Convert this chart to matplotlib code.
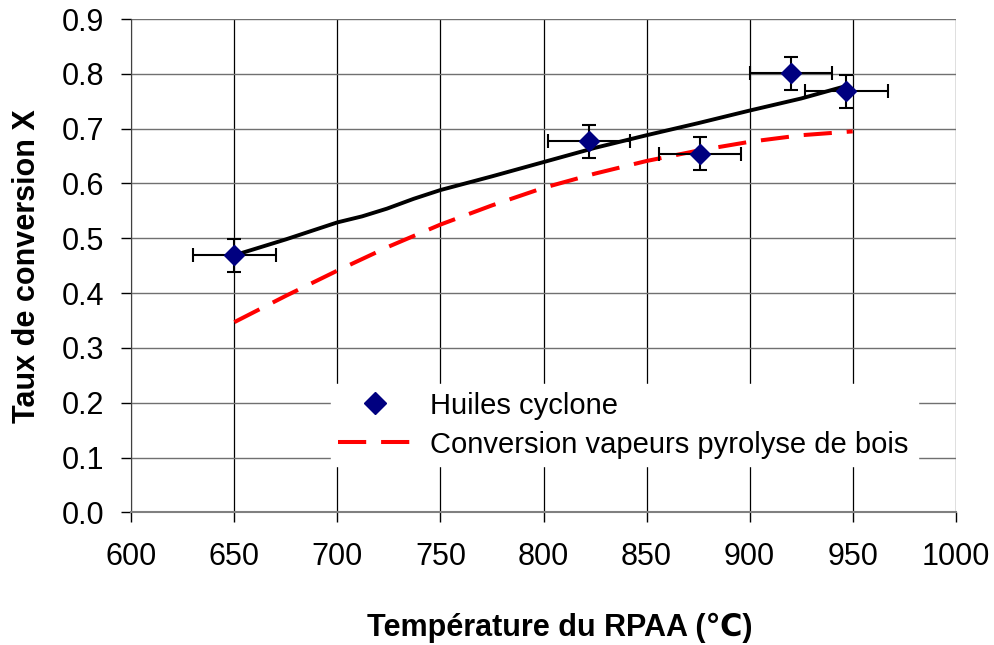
import matplotlib
matplotlib.use("Agg")
import matplotlib.pyplot as plt
from matplotlib.lines import Line2D

plt.rcParams['font.family'] = ['Liberation Sans', 'DejaVu Sans']

# Measured cyclone oil conversion with error bars
temp_cyclone = [650, 822, 876, 920, 947]
conv_cyclone = [0.469, 0.677, 0.654, 0.801, 0.768]
temp_err = [20, 20, 20, 20, 20]
conv_err = [0.03, 0.03, 0.03, 0.03, 0.03]

# Fitted trend through the cyclone oils (solid black)
temp_fit = [650, 675, 700, 712, 724, 737, 750, 775, 800, 825, 850, 875, 900, 925, 947]
conv_fit = [0.469, 0.498, 0.529, 0.540, 0.554, 0.572, 0.588, 0.613, 0.639, 0.665,
            0.688, 0.710, 0.733, 0.755, 0.778]

# Wood pyrolysis vapour conversion model (red dashed)
temp_model = [650, 675, 700, 725, 750, 775, 800, 825, 850, 875, 900, 925, 950]
conv_model = [0.347, 0.395, 0.441, 0.485, 0.525, 0.560, 0.592, 0.618, 0.641,
              0.660, 0.676, 0.688, 0.695]

xticks = [600, 650, 700, 750, 800, 850, 900, 950, 1000]
yticks = [0.0, 0.1, 0.2, 0.3, 0.4, 0.5, 0.6, 0.7, 0.8, 0.9]

fig = plt.figure(figsize=(9.94, 6.45), dpi=100)
ax = fig.add_axes([0.1321, 0.2057, 0.8294, 0.7648])

ax.plot(temp_fit, conv_fit, color='black', linewidth=2.8, zorder=3)
ax.plot(temp_model, conv_model, color='red', linewidth=2.9, dashes=(7, 3.7), zorder=3)
ax.errorbar(temp_cyclone, conv_cyclone, xerr=temp_err, yerr=conv_err,
            fmt='D', color='#000080', markersize=10, ecolor='black',
            elinewidth=1.5, capsize=5, capthick=1.5, zorder=4)

ax.set_xlim(600, 1000)
ax.set_ylim(0, 0.9)
ax.set_xticks(xticks)
ax.set_yticks(yticks)
ax.set_yticklabels([f"{v:.1f}" for v in yticks])
ax.tick_params(axis='both', labelsize=22, direction='out', length=7.5, width=1)
ax.tick_params(axis='x', pad=14)
ax.tick_params(axis='y', pad=12)

# gridlines: horizontal grey, vertical black
ax.grid(True, axis='y', color='#707070', linewidth=1)
ax.grid(True, axis='x', color='black', linewidth=0.9)
ax.set_axisbelow(True)
for side in ['top', 'right']:
    ax.spines[side].set_visible(False)
ax.spines['left'].set_color('#404040')
ax.spines['bottom'].set_color('#808080')
ax.spines['bottom'].set_linewidth(1.5)

ax.set_xlabel('Température du RPAA (℃)', fontsize=22, fontweight='bold')
ax.xaxis.set_label_coords(0.52, -0.203)
ax.set_ylabel('Taux de conversion X', fontsize=22, fontweight='bold', labelpad=14)

# legend: diamond marker only, then the dashed model line
handles = [
    Line2D([], [], linestyle='none', marker='D', color='#000080', markersize=11),
    Line2D([], [], color='red', linewidth=2.9, dashes=(7, 3.7)),
]
labels = ['Huiles cyclone', 'Conversion vapeurs pyrolyse de bois']
leg = ax.legend(handles, labels, loc='lower left',
                bbox_to_anchor=(0.242, 0.094, 0.712, 0.164), mode='expand',
                fontsize=21, frameon=True, fancybox=False, edgecolor='white',
                framealpha=1, handlelength=2.5, handletextpad=0.65,
                borderpad=0.25, labelspacing=0.38, borderaxespad=0)
leg.set_zorder(5)

fig.savefig('out.png', dpi=100, facecolor='white')
